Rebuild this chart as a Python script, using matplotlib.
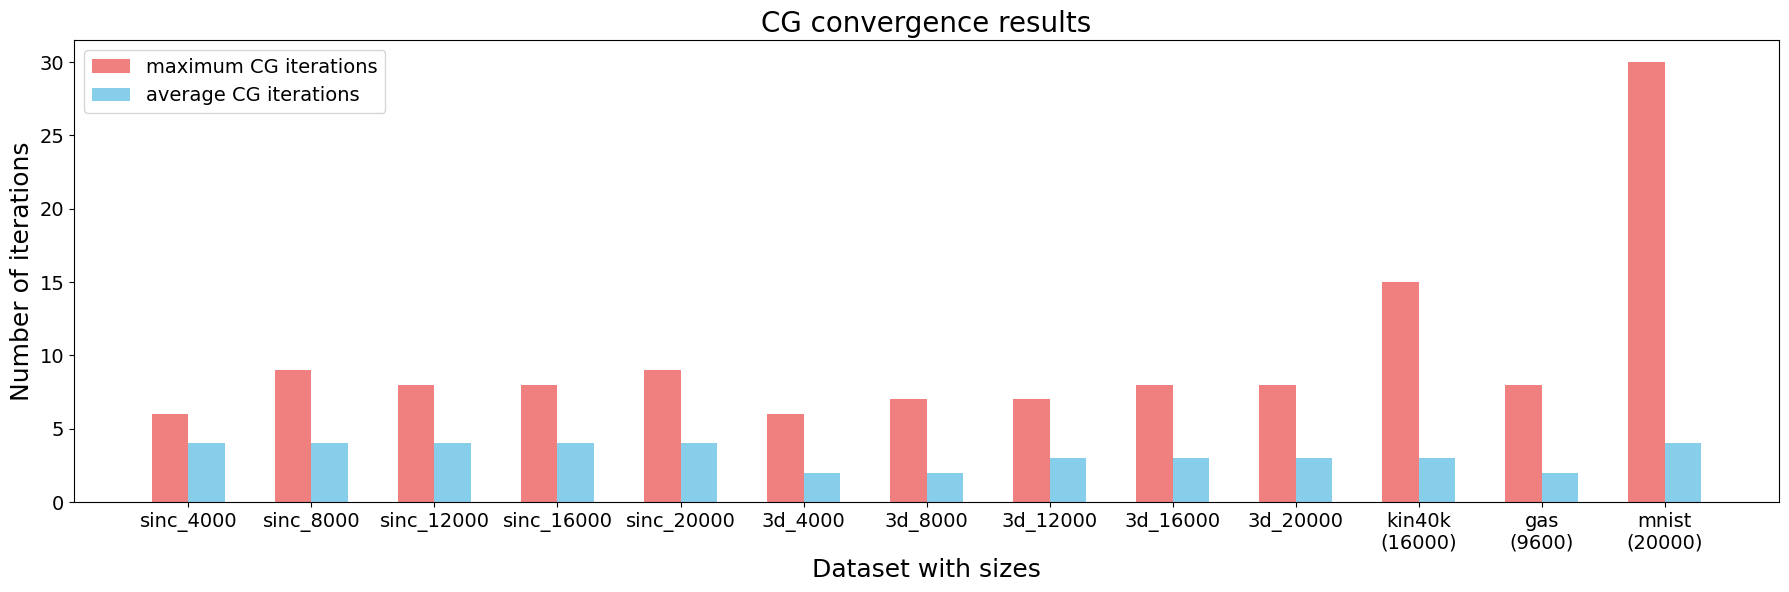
import numpy as np
import matplotlib
matplotlib.use('Agg')
import matplotlib.pyplot as plt

datasets = ['sinc_4000', 'sinc_8000', 'sinc_12000', 'sinc_16000', 'sinc_20000',
            '3d_4000', '3d_8000', '3d_12000', '3d_16000', '3d_20000',
            'kin40k\n(16000)', 'gas\n(9600)', 'mnist\n(20000)']
maxIters = [6, 9, 8, 8, 9, 6, 7, 7, 8, 8, 15, 8, 30]
avgIters = [4, 4, 4, 4, 4, 2, 2, 3, 3, 3, 3, 2, 4]

x = np.arange(len(datasets))
width = 0.3

fig, ax = plt.subplots(figsize=(17.89, 5.92), dpi=100)
ax.bar(x - width/2, maxIters, width, color='lightcoral', label='maximum CG iterations')
ax.bar(x + width/2, avgIters, width, color='skyblue', label='average CG iterations')
ax.set_xticks(x)
ax.set_xticklabels(datasets, fontsize=14)
ax.tick_params(axis='y', labelsize=14)
ax.set_xlabel('Dataset with sizes', fontsize=18)
ax.set_ylabel('Number of iterations', fontsize=18)
ax.set_title('CG convergence results', fontsize=20)
ax.legend(fontsize=14, loc='upper left')
plt.subplots_adjust(left=0.0414, right=0.9944, top=0.9324, bottom=0.152)
plt.savefig('out.png', dpi=100)
